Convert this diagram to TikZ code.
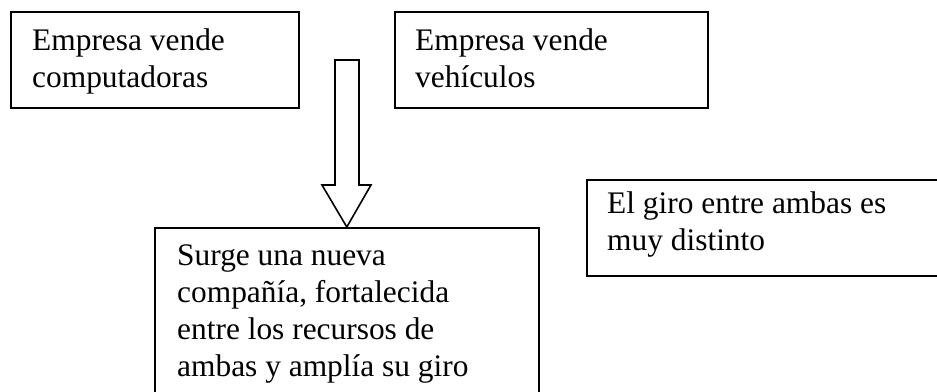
\documentclass[tikz,border=0pt]{standalone}
\usepackage{fontspec}
\setmainfont{Liberation Serif}
\begin{document}
\begin{tikzpicture}[x=1pt,y=-1pt,
  box/.style={draw, line width=1.6pt, inner sep=0pt, anchor=north west},
  txt/.style={font=\fontsize{31.4}{37}\selectfont, align=left, anchor=base west, inner sep=0pt},
  blockarrow/.style={draw, line width=1.6pt, line join=miter, fill=white}]
\useasboundingbox (0,0) rectangle (937,391);
\clip (0,0) rectangle (937,391);
\fill[white] (0,0) rectangle (937,391);
\node[box, minimum width=288pt, minimum height=96pt] (b1) at (10,11) {};
\node[box, minimum width=313pt, minimum height=96pt] (b2) at (394,11) {};
\node[box, minimum width=384pt, minimum height=190pt] (b3) at (154,227) {};
\node[box, minimum width=380pt, minimum height=96pt] (b4) at (586,179) {};
% anchor base = baseline of the last line
\node[txt] (t1) at (32,87.5) {Empresa vende\\computadoras};
\node[txt] (t2) at (415,87.5) {Empresa vende\\vehículos};
\node[txt] (t3) at (177,376) {Surge una nueva\\compañía, fortalecida\\entre los recursos de\\ambas y amplía su giro};
\node[txt] (t4) at (607,250) {El giro entre ambas es\\muy distinto};
\draw[blockarrow] (335,60) -- (335,185) -- (322,185) -- (b3.north) -- (371,185) -- (359,185) -- (359,60) -- cycle;
\end{tikzpicture}
\end{document}
